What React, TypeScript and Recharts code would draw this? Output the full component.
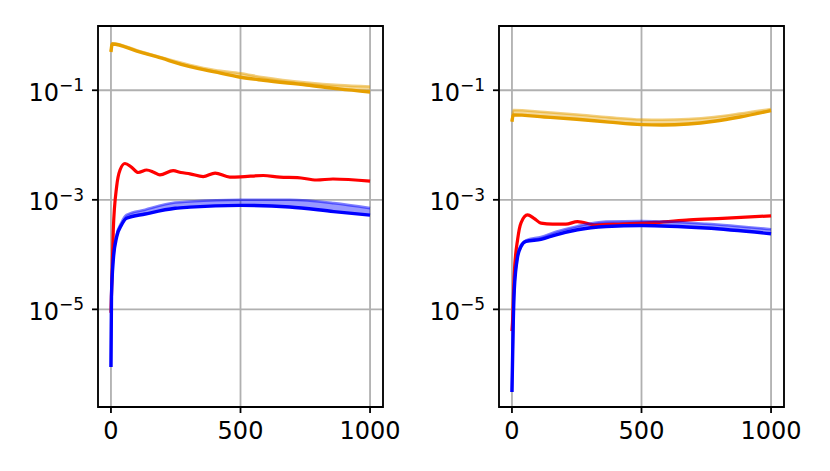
import React from 'react'
import { ComposedChart, Line, Area, XAxis, YAxis, CartesianGrid, ReferenceArea } from 'recharts'

// left panel
const LEFT_ORANGE_X = [0, 5, 100, 176, 305, 400, 500, 588, 755, 880, 1000]
const LEFT_ORANGE_LO = [0.5, 0.7, 0.52, 0.41, 0.27, 0.216, 0.173, 0.152, 0.125, 0.106, 0.093]
const LEFT_ORANGE_HI = [0.52, 0.72, 0.54, 0.42, 0.29, 0.235, 0.204, 0.172, 0.138, 0.124, 0.117]

const LEFT_RED_X = [0, 4, 9, 22, 35, 54, 80, 105, 138, 165, 189, 240, 270, 305, 356, 402, 459, 500, 588, 652, 720, 794, 857, 1000]
const LEFT_RED = [
  8.7e-6, 4e-5, 2.8e-4, 1.75e-3, 3.5e-3, 4.6e-3, 3.9e-3, 3.15e-3, 3.5e-3, 3.2e-3, 2.86e-3, 3.4e-3,
  3.15e-3, 2.98e-3, 2.66e-3, 3.07e-3, 2.6e-3, 2.62e-3, 2.78e-3, 2.6e-3, 2.55e-3, 2.3e-3, 2.4e-3, 2.19e-3,
]

const LEFT_BLUE_X = [0, 2, 9, 22, 41, 60, 132, 248, 305, 500, 690, 860, 1000]
const LEFT_BLUE_LO = [8.9e-7, 1.7e-5, 8e-5, 2.1e-4, 3.5e-4, 4.6e-4, 5.5e-4, 7.0e-4, 7.35e-4, 7.9e-4, 7.4e-4, 6.1e-4, 5.25e-4]
const LEFT_BLUE_HI = [8.9e-7, 1.8e-5, 9e-5, 2.3e-4, 3.9e-4, 5.3e-4, 6.6e-4, 8.9e-4, 9.3e-4, 1.0e-3, 1.0e-3, 8.7e-4, 7.05e-4]

// right panel
const RIGHT_ORANGE_X = [0, 5, 125, 250, 375, 500, 580, 680, 780, 880, 1000]
const RIGHT_ORANGE_LO = [0.0267, 0.0355, 0.0325, 0.0295, 0.0262, 0.0236, 0.0232, 0.0242, 0.0272, 0.0325, 0.0425]
const RIGHT_ORANGE_HI = [0.0275, 0.0437, 0.04, 0.036, 0.032, 0.0292, 0.0289, 0.0298, 0.0325, 0.0375, 0.0456]

const RIGHT_RED_X = [0, 2, 9, 22, 35, 60, 85, 112, 157, 208, 253, 324, 427, 500, 556, 685, 813, 1000]
const RIGHT_RED = [
  4e-6, 5.7e-6, 4.6e-5, 1.9e-4, 3.8e-4, 5.3e-4, 4.6e-4, 3.75e-4, 3.6e-4, 3.6e-4, 4.0e-4, 3.5e-4,
  3.65e-4, 3.75e-4, 3.86e-4, 4.3e-4, 4.6e-4, 5.1e-4,
]

const RIGHT_BLUE_X = [0, 5, 9, 22, 35, 54, 112, 170, 253, 363, 500, 749, 1000]
const RIGHT_BLUE_LO = [3.1e-7, 5.7e-6, 2.3e-5, 9.2e-5, 1.4e-4, 1.74e-4, 1.9e-4, 2.3e-4, 2.84e-4, 3.25e-4, 3.4e-4, 3.05e-4, 2.4e-4]
const RIGHT_BLUE_HI = [3.1e-7, 6e-6, 2.4e-5, 9.8e-5, 1.5e-4, 1.82e-4, 2.1e-4, 2.6e-4, 3.3e-4, 4.0e-4, 4.1e-4, 3.65e-4, 2.9e-4]

const X_TICKS = [0, 500, 1000]
const Y_TICKS = [1e-5, 1e-3, 1e-1]
const X_DOMAIN = [-50, 1050]
const Y_DOMAIN = [1.65e-7, 1.49]

const ORANGE = '#e69f00'
const RED = '#ff0000'
const BLUE = '#0000ff'
const FONT = 'DejaVu Sans, sans-serif'

const band = (xs: number[], lo: number[], hi: number[]) =>
  xs.map((x, i) => ({ x, lo: lo[i], hi: hi[i], range: [lo[i], hi[i]] }))
const single = (xs: number[], v: number[]) => xs.map((x, i) => ({ x, v: v[i] }))

const YTick = (props: any) => {
  const { x, y, payload } = props
  const exp = Math.round(Math.log10(payload.value))
  return (
    <text x={x} y={y} dy={10.4} textAnchor="end" fontFamily={FONT} fontSize={24} fill="#000">
      <tspan>10</tspan>
      <tspan dy={-9.5} fontSize={17}>{'\u2212' + Math.abs(exp)}</tspan>
    </text>
  )
}

interface PanelProps {
  width: number
  yAxisWidth: number
  right: number
  orange: ReturnType<typeof band>
  red: ReturnType<typeof single>
  blue: ReturnType<typeof band>
}

const Panel: React.FC<PanelProps> = ({ width, yAxisWidth, right, orange, red, blue }) => (
  <ComposedChart width={width} height={471} margin={{ top: 26, right, bottom: 24, left: 0 }}>
    <CartesianGrid stroke="#b0b0b0" strokeWidth={1.8} strokeDasharray="" />
    <XAxis
      dataKey="x"
      type="number"
      domain={X_DOMAIN}
      ticks={X_TICKS}
      allowDataOverflow
      height={40}
      axisLine={false}
      tickSize={6}
      tickMargin={9}
      tickLine={{ stroke: '#000', strokeWidth: 1.8 }}
      tick={{ fill: '#000', fontSize: 24, fontFamily: FONT }}
    />
    <YAxis
      type="number"
      scale="log"
      domain={Y_DOMAIN}
      ticks={Y_TICKS}
      allowDataOverflow
      width={yAxisWidth}
      axisLine={false}
      tickSize={6}
      tickMargin={8}
      tickLine={{ stroke: '#000', strokeWidth: 1.8 }}
      tick={<YTick />}
    />
    <Area data={orange} dataKey="range" type="monotone" stroke="none" fill={ORANGE} fillOpacity={0.4} isAnimationActive={false} />
    <Line data={orange} dataKey="hi" type="monotone" stroke={ORANGE} strokeOpacity={0.5} strokeWidth={2.6} dot={false} isAnimationActive={false} />
    <Line data={orange} dataKey="lo" type="monotone" stroke={ORANGE} strokeWidth={3.4} dot={false} isAnimationActive={false} />
    <Line data={red} dataKey="v" type="monotone" stroke={RED} strokeWidth={3.2} dot={false} isAnimationActive={false} />
    <Area data={blue} dataKey="range" type="monotone" stroke="none" fill={BLUE} fillOpacity={0.4} isAnimationActive={false} />
    <Line data={blue} dataKey="hi" type="monotone" stroke={BLUE} strokeOpacity={0.5} strokeWidth={2.6} dot={false} isAnimationActive={false} />
    <Line data={blue} dataKey="lo" type="monotone" stroke={BLUE} strokeWidth={3.4} dot={false} isAnimationActive={false} />
    <ReferenceArea
      x1={X_DOMAIN[0]}
      x2={X_DOMAIN[1]}
      y1={Y_DOMAIN[0]}
      y2={Y_DOMAIN[1]}
      fill="none"
      stroke="#000"
      strokeWidth={1.8}
      ifOverflow="visible"
    />
  </ComposedChart>
)

export default function App() {
  return (
    <div style={{ position: 'absolute', left: 0, top: 0, width: 830, height: 471, background: '#fff' }}>
      <div style={{ position: 'absolute', left: 0, top: 0 }}>
        <Panel
          width={400}
          yAxisWidth={98}
          right={17}
          orange={band(LEFT_ORANGE_X, LEFT_ORANGE_LO, LEFT_ORANGE_HI)}
          red={single(LEFT_RED_X, LEFT_RED)}
          blue={band(LEFT_BLUE_X, LEFT_BLUE_LO, LEFT_BLUE_HI)}
        />
      </div>
      <div style={{ position: 'absolute', left: 400, top: 0 }}>
        <Panel
          width={430}
          yAxisWidth={99}
          right={46}
          orange={band(RIGHT_ORANGE_X, RIGHT_ORANGE_LO, RIGHT_ORANGE_HI)}
          red={single(RIGHT_RED_X, RIGHT_RED)}
          blue={band(RIGHT_BLUE_X, RIGHT_BLUE_LO, RIGHT_BLUE_HI)}
        />
      </div>
    </div>
  )
}
